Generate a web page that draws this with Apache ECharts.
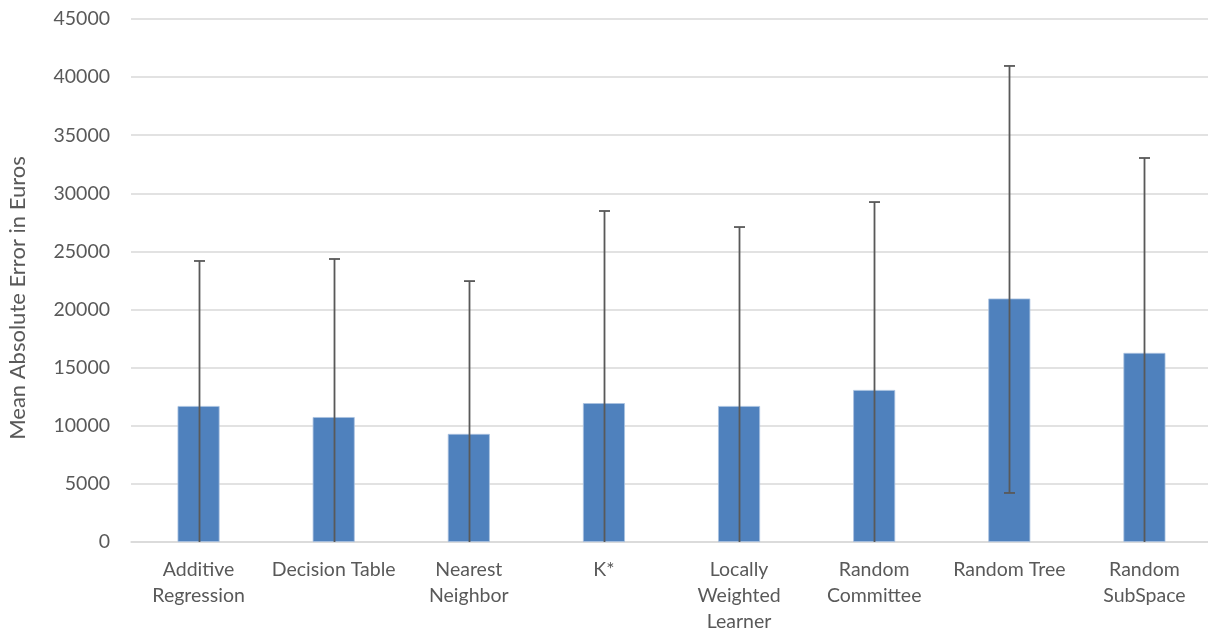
<!DOCTYPE html>
<html>
<head>
<meta charset="utf-8">
<script src="https://cdn.jsdelivr.net/npm/echarts@6/dist/echarts.min.js"></script>
<style>html,body{margin:0;padding:0;background:#fff;overflow:hidden;width:1208px;height:635px;}#c{width:1214px;height:635px;}</style>
</head>
<body>
<div id="c"></div>
<script>
const categories = ['Additive\nRegression', 'Decision Table', 'Nearest\nNeighbor', 'K*', 'Locally\nWeighted\nLearner', 'Random\nCommittee', 'Random Tree', 'Random\nSubSpace'];
const meanValues = [11700, 10750, 9300, 11950, 11700, 13080, 20950, 16270];
const errorUpper = [24180, 24350, 22450, 28480, 27100, 29250, 40960, 33040];
const errorLower = [-780, -2850, -3850, -4580, -3700, -3090, 4220, -500];
const yTicks = { min: 0, max: 45000, interval: 5000 };
const yAxisTitle = 'Mean Absolute Error in Euros';

const FONT = 'Lato, "Open Sans", sans-serif';
const chart = echarts.init(document.getElementById('c'), null, { renderer: 'canvas' });

const errData = categories.map((c, i) => [i, errorLower[i], errorUpper[i]]);

chart.setOption({
  backgroundColor: '#ffffff',
  animation: false,
  grid: { left: 131, top: 19, width: 1081, height: 523, containLabel: false },
  graphic: [{
    type: 'text',
    x: 18, y: 298,
    rotation: Math.PI / 2,
    style: { text: yAxisTitle, fill: '#595959', font: '22px ' + FONT, textAlign: 'center', textVerticalAlign: 'middle' }
  }],
  xAxis: {
    type: 'category',
    data: categories,
    axisLine: { show: true, lineStyle: { color: '#d9d9d9', width: 1.5 } },
    axisTick: { show: false },
    axisLabel: { color: '#595959', fontFamily: FONT, fontSize: 19.5, lineHeight: 26, margin: 15, interval: 0 }
  },
  yAxis: {
    type: 'value',
    min: yTicks.min, max: yTicks.max, interval: yTicks.interval,
    axisLine: { show: false },
    axisTick: { show: false },
    axisLabel: { color: '#595959', fontFamily: FONT, fontSize: 19.5, margin: 21, formatter: v => String(v) },
    splitLine: { lineStyle: { color: '#d9d9d9', width: 1.5 } }
  },
  series: [
    {
      type: 'bar',
      data: meanValues,
      barWidth: 42,
      itemStyle: { color: '#4f81bd', borderColor: '#a9c1e0', borderWidth: 0.8 },
      z: 2
    },
    {
      type: 'custom',
      data: errData,
      z: 5,
      renderItem: function (params, api) {
        const i = api.value(0);
        const lo = api.value(1);
        const hi = api.value(2);
        const loClip = Math.max(lo, 0);
        const pHi = api.coord([i, hi]);
        const pLo = api.coord([i, loClip]);
        const x = Math.round(pHi[0]) + 0.5;
        const cap = 5.5;
        const style = { stroke: '#595959', lineWidth: 1.8, fill: null };
        const children = [
          { type: 'line', shape: { x1: x, y1: pHi[1], x2: x, y2: pLo[1] }, style: style },
          { type: 'line', shape: { x1: x - cap, y1: pHi[1], x2: x + cap, y2: pHi[1] }, style: style }
        ];
        if (lo >= 0) {
          children.push({ type: 'line', shape: { x1: x - cap, y1: pLo[1], x2: x + cap, y2: pLo[1] }, style: style });
        }
        return { type: 'group', children: children };
      }
    }
  ]
});
</script>
</body>
</html>
